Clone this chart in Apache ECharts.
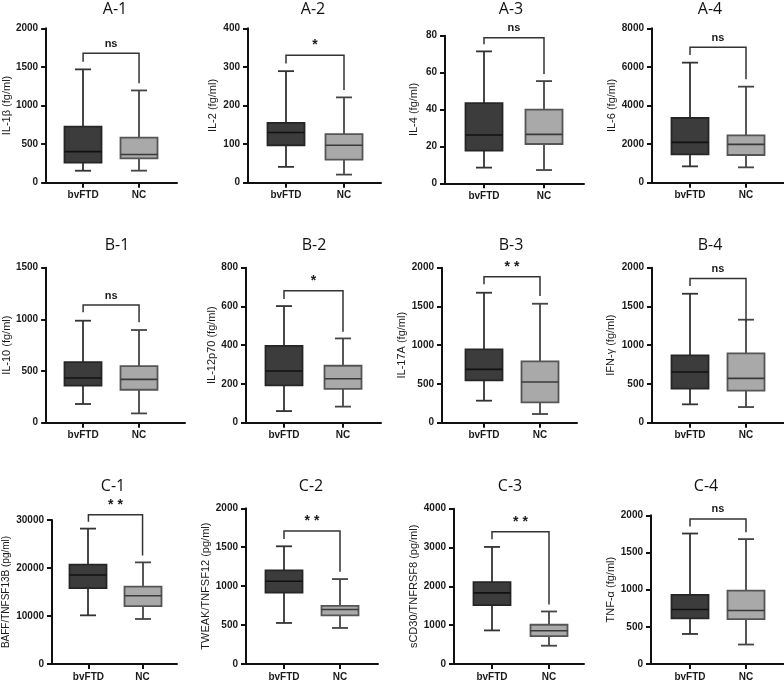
<!DOCTYPE html>
<html>
<head>
<meta charset="utf-8">
<script src="https://cdn.jsdelivr.net/npm/echarts@6/dist/echarts.min.js"></script>
<style>html,body{margin:0;padding:0;background:#fff}#c{width:784px;height:682px}</style>
</head>
<body>
<div id="c"></div>
<script>
// ---------- data ----------
const groups = ['bvFTD', 'NC'];
const panelTitles = ['A-1','A-2','A-3','A-4','B-1','B-2','B-3','B-4','C-1','C-2','C-3','C-4'];
const yNames = ['IL-1β (fg/ml)','IL-2 (fg/ml)','IL-4 (fg/ml)','IL-6 (fg/ml)',
  'IL-10 (fg/ml)','IL-12p70 (fg/ml)','IL-17A (fg/ml)','IFN-γ (fg/ml)',
  'BAFF/TNFSF13B (pg/ml)','TWEAK/TNFSF12 (pg/ml)','sCD30/TNFRSF8 (pg/ml)','TNF-α (fg/ml)'];
const yMax = [2000, 400, 80, 8000, 1500, 800, 2000, 2000, 30000, 2000, 4000, 2000];
const yInterval = [500, 100, 20, 2000, 500, 200, 500, 500, 10000, 500, 1000, 500];
// [min, Q1, median, Q3, max]
const bvFTD = [
  [155, 260, 402, 726, 1468],
  [41, 97, 130, 155, 289],
  [8.5, 17.7, 26.2, 43.5, 71.5],
  [847, 1469, 2091, 3352, 6221],
  [181, 358, 432, 587, 987],
  [60, 193, 267, 397, 602],
  [284, 546, 688, 946, 1677],
  [237, 439, 654, 869, 1664],
  [10138, 15793, 18552, 20690, 28207],
  [527, 917, 1062, 1202, 1512],
  [865, 1516, 1833, 2107, 3015],
  [404, 613, 733, 929, 1755]
];
const NC = [
  [156, 315, 365, 585, 1195],
  [21, 60, 97, 126, 221],
  [7.2, 21.3, 26.5, 39.9, 55.4],
  [795, 1434, 1987, 2454, 4977],
  [90, 319, 419, 548, 897],
  [83, 175, 227, 294, 435],
  [112, 262, 525, 791, 1535],
  [202, 413, 572, 894, 1329],
  [9379, 12069, 14207, 16138, 21172],
  [463, 624, 701, 747, 1091],
  [471, 719, 856, 1011, 1353],
  [262, 604, 720, 987, 1680]
];
const sigLabels = ['ns','*','ns','ns','ns','*','**','ns','**','**','**','ns'];
const bracketTop = [1676, 330, 78.9, 7016, 1139, 681, 1883, 1862, 31100, 1707, 3409, 1951];
const bracketLegBv = [1568, 309, 75.3, 6618, 1068, 638, 1785, 1763, 29655, 1605, 3212, 1849];
const bracketLegNC = [1287, 240, 59.2, 5357, 971, 470, 1634, 1303, 22621, 1185, 1533, 1773];

// ---------- layout (pixels) ----------
// [axisX, axisEndX, bvFTD centre x, NC centre x, top y, bottom y, nameGap, titleX, titleY]
const layout = [
  [46, 177, 83, 139, 28.3, 182.7, 34, 115, 9],
  [248, 381, 286, 344, 28.3, 182.7, 30, 313, 9],
  [445, 584, 484, 544, 35.7, 183.3, 26, 511, 9],
  [652, 784, 690, 746, 28.3, 182.7, 33, 710, 9],
  [46, 185, 83, 139, 267.7, 422.7, 33, 117, 245],
  [246, 381, 284, 343, 267.7, 422.7, 28, 314, 245],
  [442, 577, 484, 540, 267.7, 422.7, 30, 511, 245],
  [652, 784, 690, 746, 267.7, 422.7, 36, 710, 245],
  [50, 177, 87, 142, 520, 665, 41, 113, 486],
  [246, 378, 284, 340, 508.3, 665.3, 32, 311, 486],
  [454, 584, 492, 549, 508.7, 664.3, 33, 510, 486],
  [651, 784, 690, 746, 515.3, 665.3, 32, 706, 486]
];

const W = 784, H = 682;
const chart = echarts.init(document.getElementById('c'), null, {renderer: 'canvas'});

const FONT = "'Liberation Sans', Arial, sans-serif";
const grids = [], xAxes = [], yAxes = [], series = [], graphics = [];
const tickFont = {fontFamily: FONT, fontWeight: 'bold', fontSize: 10, color: '#1a1a1a'};

function renderBox(params, api) {
  const x = api.value(0);
  const pMin = api.coord([x, api.value(1)]);
  const pQ1 = api.coord([x, api.value(2)]);
  const pMed = api.coord([x, api.value(3)]);
  const pQ3 = api.coord([x, api.value(4)]);
  const pMax = api.coord([x, api.value(5)]);
  const cx = Math.round(pMin[0]);
  const hw = 18.5, cw = 8;
  const isBv = x === 0;
  const fill = isBv ? '#3c3c3c' : '#a9a9a9';
  const stroke = isBv ? '#262626' : '#555555';
  const wc = isBv ? '#333333' : '#454545';
  const medC = isBv ? '#111111' : '#3a3a3a';
  const lw = 1.8;
  return {
    type: 'group',
    children: [
      {type: 'line', shape: {x1: cx, y1: pMin[1], x2: cx, y2: pQ1[1]}, style: {stroke: wc, lineWidth: lw}},
      {type: 'line', shape: {x1: cx, y1: pQ3[1], x2: cx, y2: pMax[1]}, style: {stroke: wc, lineWidth: lw}},
      {type: 'line', shape: {x1: cx - cw, y1: pMin[1], x2: cx + cw, y2: pMin[1]}, style: {stroke: wc, lineWidth: lw}},
      {type: 'line', shape: {x1: cx - cw, y1: pMax[1], x2: cx + cw, y2: pMax[1]}, style: {stroke: wc, lineWidth: lw}},
      {type: 'rect', shape: {x: cx - hw, y: pQ3[1], width: hw * 2, height: pQ1[1] - pQ3[1]},
        style: {fill: fill, stroke: stroke, lineWidth: 1.8}},
      {type: 'line', shape: {x1: cx - hw, y1: pMed[1], x2: cx + hw, y2: pMed[1]}, style: {stroke: medC, lineWidth: 1.6}}
    ]
  };
}

function renderBracket(params, api) {
  const top = api.value(0), lb = api.value(1), ln = api.value(2);
  const a = api.coord([0, lb]), b = api.coord([0, top]), c = api.coord([1, top]), d = api.coord([1, ln]);
  const label = sigLabels[params.seriesIndex >> 1];
  const isStar = label !== 'ns';
  return {
    type: 'group',
    children: [
      {type: 'polyline', shape: {points: [a, b, c, d]}, style: {stroke: '#333', lineWidth: 1.5, fill: null}},
      {type: 'text', x: (b[0] + c[0]) / 2, y: b[1] - (isStar ? 3 : 4),
        style: {text: isStar ? label.split('').join(' ') : label, fill: '#1a1a1a',
          font: isStar ? "bold 14px " + FONT : "bold 11px " + FONT,
          align: 'center', verticalAlign: 'bottom'}}
    ]
  };
}

for (let i = 0; i < 12; i++) {
  const [ax, ex, bx, nx, ty, by, nameGap, tx, tyy] = layout[i];
  const s = nx - bx;
  const xmin = -(bx - ax) / s;
  const xmax = 1 + (ex - nx) / s;
  grids.push({left: ax, right: W - ex, top: ty, bottom: H - by});
  xAxes.push({
    type: 'value', gridIndex: i, min: xmin, max: xmax,
    splitLine: {show: false},
    axisLine: {show: true, onZero: false, lineStyle: {color: '#111', width: 2}},
    axisTick: {show: true, customValues: [0, 1], length: 5, lineStyle: {color: '#111', width: 2}},
    axisLabel: {show: true, customValues: [0, 1], margin: 8, formatter: v => groups[Math.round(v)] || '', ...tickFont}
  });
  yAxes.push({
    type: 'value', gridIndex: i, min: 0, max: yMax[i], interval: yInterval[i],
    name: yNames[i], nameLocation: 'middle', nameGap: nameGap, nameRotate: 90,
    nameTextStyle: {fontFamily: FONT, fontSize: i === 8 ? 10 : 11, color: '#1a1a1a'},
    splitLine: {show: false},
    axisLine: {show: true, onZero: false, lineStyle: {color: '#111', width: 2}},
    axisTick: {show: true, length: 5, lineStyle: {color: '#111', width: 2}},
    axisLabel: {margin: 8, formatter: v => String(v), ...tickFont}
  });
  series.push({
    type: 'custom', xAxisIndex: i, yAxisIndex: i, renderItem: renderBox, clip: false,
    data: [[0, ...bvFTD[i]], [1, ...NC[i]]]
  });
  series.push({
    type: 'custom', xAxisIndex: i, yAxisIndex: i, renderItem: renderBracket, clip: false,
    data: [[bracketTop[i], bracketLegBv[i], bracketLegNC[i]]]
  });
  graphics.push({
    type: 'text', x: tx, y: tyy,
    style: {text: panelTitles[i], font: "16px 'Open Sans', 'Noto Sans', sans-serif", fill: '#111', align: 'center', verticalAlign: 'middle'}
  });
}

chart.setOption({
  animation: false,
  backgroundColor: '#fff',
  grid: grids, xAxis: xAxes, yAxis: yAxes, series: series, graphic: graphics
});
</script>
</body>
</html>
